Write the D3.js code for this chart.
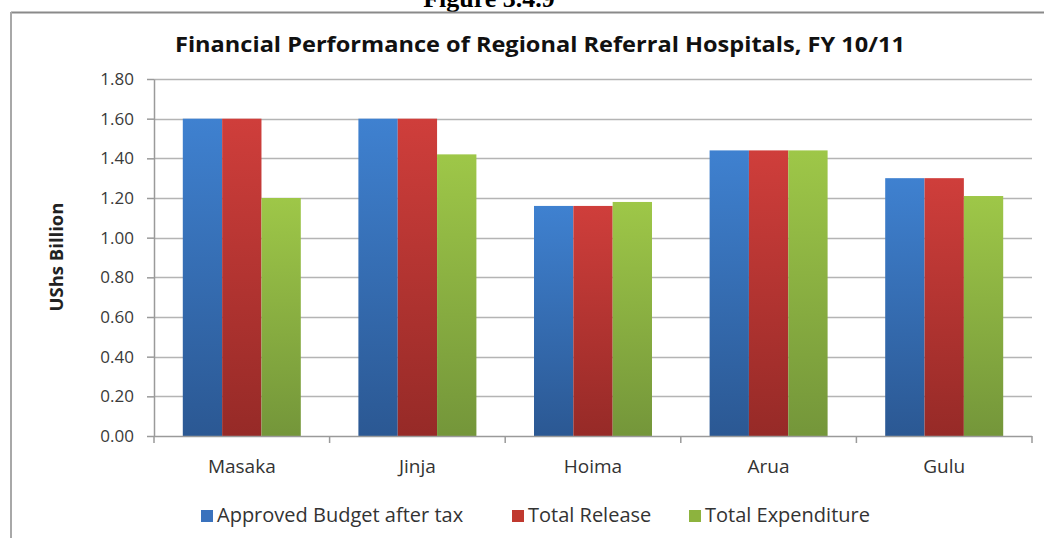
<!DOCTYPE html>
<html>
<head>
<meta charset="utf-8">
<script src="https://cdn.jsdelivr.net/npm/d3@7"></script>
<style>
    body { margin: 0; background: #fff; }
    svg { display: block; }
</style>
</head>
<body>
<div id="chart"></div>
<script>
// data
var hospitals = ["Masaka", "Jinja", "Hoima", "Arua", "Gulu"];
var seriesNames = ["Approved Budget after tax", "Total Release", "Total Expenditure"];
var approvedBudget = [1.60, 1.60, 1.16, 1.44, 1.30];
var totalRelease = [1.60, 1.60, 1.16, 1.44, 1.30];
var totalExpenditure = [1.20, 1.42, 1.18, 1.44, 1.21];
var yTicks = [0, 0.2, 0.4, 0.6, 0.8, 1.0, 1.2, 1.4, 1.6, 1.8];

var seriesValues = [approvedBudget, totalRelease, totalExpenditure];
var colorsTop = ["#3f81d0", "#cf3e3b", "#9ec748"];
var colorsBottom = ["#2b5893", "#962a27", "#74963a"];
var legendColors = ["#3a72bd", "#c0392f", "#8db33e"];

var width = 1044, height = 538;
var plotLeft = 154, plotRight = 1032, plotTop = 79, plotBottom = 436;

var svg = d3.select("#chart").append("svg")
    .attr("width", width)
    .attr("height", height);

var defs = svg.append("defs");
seriesNames.forEach(function (s, i) {
    var g = defs.append("linearGradient")
        .attr("id", "grad" + i)
        .attr("x1", 0).attr("y1", 0).attr("x2", 0).attr("y2", 1);
    g.append("stop").attr("offset", "0%").attr("stop-color", colorsTop[i]);
    g.append("stop").attr("offset", "100%").attr("stop-color", colorsBottom[i]);
});

// figure caption, cut at the top of the page
svg.append("text")
    .attr("x", 489).attr("y", 7)
    .attr("text-anchor", "middle")
    .style("font-family", "'Liberation Serif', serif")
    .style("font-weight", "bold")
    .style("font-size", "26px")
    .text("Figure 3.4.9");

// chart frame
svg.append("line")
    .attr("x1", 11).attr("x2", width).attr("y1", 12.5).attr("y2", 12.5)
    .attr("stroke", "#8a8a8a").attr("stroke-width", 2);
svg.append("line")
    .attr("x1", 11).attr("x2", 11).attr("y1", 12).attr("y2", height)
    .attr("stroke", "#a8a8a8").attr("stroke-width", 2);

svg.append("text")
    .attr("x", 540).attr("y", 52)
    .attr("text-anchor", "middle")
    .attr("textLength", 730)
    .attr("lengthAdjust", "spacingAndGlyphs")
    .style("font-family", "'Open Sans', sans-serif")
    .style("font-weight", "bold")
    .style("font-size", "21px")
    .style("fill", "#111")
    .text("Financial Performance of Regional Referral Hospitals, FY 10/11");

var y = d3.scaleLinear().domain([0, 1.8]).range([plotBottom, plotTop]);
var x0 = d3.scaleBand().domain(hospitals).range([plotLeft, plotRight])
    .paddingInner(0.328).paddingOuter(0.164);
var x1 = d3.scaleBand().domain(d3.range(seriesNames.length)).range([0, x0.bandwidth()]);

// gridlines
svg.append("g").selectAll("line")
    .data(yTicks.slice(1))
    .enter().append("line")
    .attr("x1", plotLeft).attr("x2", plotRight)
    .attr("y1", function (d) { return Math.round(y(d)) + 0.5; })
    .attr("y2", function (d) { return Math.round(y(d)) + 0.5; })
    .attr("stroke", "#b4b4b4").attr("stroke-width", 1.5);

// y axis
var yAxis = svg.append("g")
    .attr("transform", "translate(" + plotLeft + ",0)")
    .call(d3.axisLeft(y).tickValues(yTicks).tickFormat(d3.format(".2f")).tickSizeInner(7).tickSizeOuter(0).tickPadding(13));
yAxis.select(".domain").attr("stroke", "#9a9a9a").attr("stroke-width", 1.5);
yAxis.selectAll(".tick line").attr("stroke", "#9a9a9a").attr("stroke-width", 1.5);
yAxis.selectAll("text")
    .style("font-family", "'Open Sans', sans-serif")
    .style("font-size", "17px")
    .style("fill", "#3a3a3a");

svg.append("text")
    .attr("transform", "translate(63,257) rotate(-90)")
    .attr("text-anchor", "middle")
    .style("font-family", "'Open Sans', sans-serif")
    .style("font-weight", "bold")
    .style("font-size", "18.5px")
    .style("fill", "#222")
    .text("UShs Billion");

// bars
var groups = svg.append("g").selectAll("g")
    .data(hospitals)
    .enter().append("g")
    .attr("transform", function (d) { return "translate(" + x0(d) + ",0)"; });

groups.selectAll("rect")
    .data(function (d, i) {
        return seriesValues.map(function (vals, s) { return {s: s, v: vals[i]}; });
    })
    .enter().append("rect")
    .attr("x", function (d) { return x1(d.s); })
    .attr("y", function (d) { return y(d.v); })
    .attr("width", x1.bandwidth())
    .attr("height", function (d) { return plotBottom - y(d.v); })
    .attr("fill", function (d) { return "url(#grad" + d.s + ")"; });

// x axis with tick marks between categories
svg.append("line")
    .attr("x1", plotLeft).attr("x2", plotRight).attr("y1", plotBottom + 0.5).attr("y2", plotBottom + 0.5)
    .attr("stroke", "#9a9a9a").attr("stroke-width", 1.5);
var step = x0.step();
svg.append("g").selectAll("line")
    .data(d3.range(hospitals.length + 1))
    .enter().append("line")
    .attr("x1", function (i) { return plotLeft + i * step; })
    .attr("x2", function (i) { return plotLeft + i * step; })
    .attr("y1", plotBottom).attr("y2", plotBottom + 7)
    .attr("stroke", "#9a9a9a").attr("stroke-width", 1.5);

svg.append("g").selectAll("text")
    .data(hospitals)
    .enter().append("text")
    .attr("x", function (d) { return x0(d) + x0.bandwidth() / 2; })
    .attr("y", 473)
    .attr("text-anchor", "middle")
    .style("font-family", "'Open Sans', sans-serif")
    .style("font-size", "19px")
    .style("fill", "#333")
    .text(function (d) { return d; });

// legend
var legendX = [201, 512, 689];
var legend = svg.append("g").selectAll("g")
    .data(seriesNames)
    .enter().append("g")
    .attr("transform", function (d, i) { return "translate(" + legendX[i] + ",510)"; });
legend.append("rect")
    .attr("width", 12).attr("height", 12)
    .attr("fill", function (d, i) { return legendColors[i]; });
legend.append("text")
    .attr("x", 16).attr("y", 12)
    .style("font-family", "'Open Sans', sans-serif")
    .style("font-size", "20px")
    .style("fill", "#333")
    .text(function (d) { return d; });
</script>
</body>
</html>
